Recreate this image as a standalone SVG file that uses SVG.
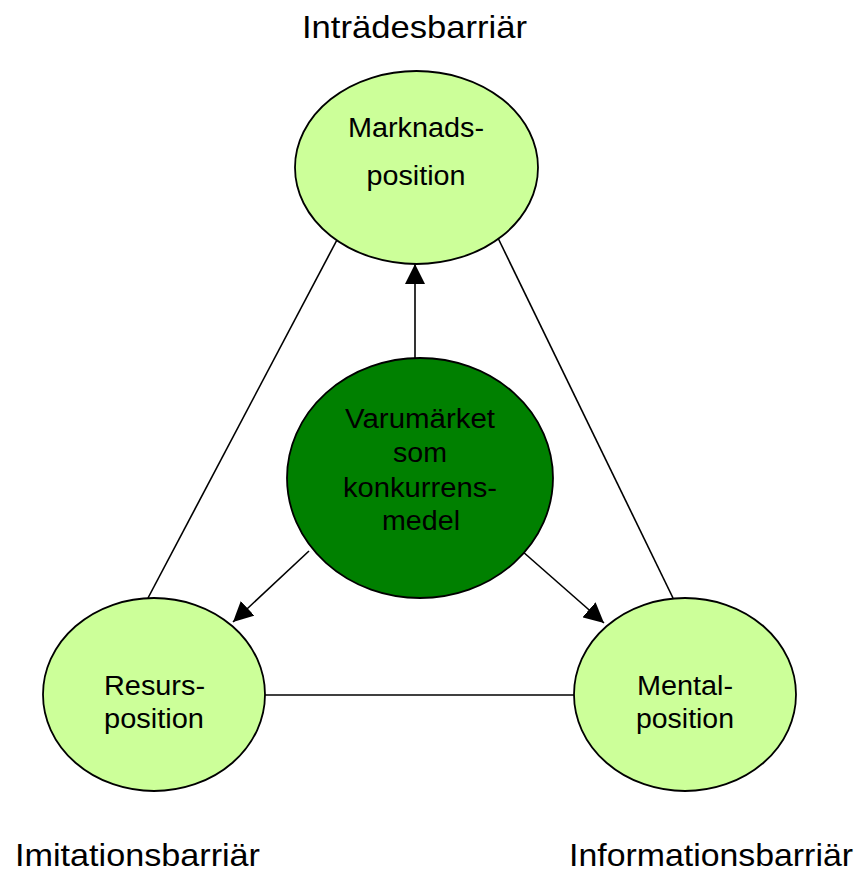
<svg xmlns="http://www.w3.org/2000/svg" width="860" height="875" viewBox="0 0 860 875">
  <defs>
    <marker id="arr" viewBox="0 0 10 10" refX="10" refY="5" markerWidth="20" markerHeight="20" markerUnits="userSpaceOnUse" orient="auto">
      <path d="M0,0 L10,5 L0,10 Z" fill="#000"/>
    </marker>
    <style>
      .light { fill: #CCFF99; stroke: #000; stroke-width: 1.8; }
      .dark { fill: #008000; stroke: #000; stroke-width: 1.8; }
      .conn { stroke: #000; stroke-width: 1.6; fill: none; }
      text { font-family: "Liberation Sans", Arial, sans-serif; fill: #000; }
      .lbl { font-size: 32px; }
      .nt { font-size: 27px; text-anchor: middle; }
    </style>
  </defs>
  <rect width="860" height="875" fill="#fff"/>

  <g id="connectors">
    <line class="conn" x1="338" y1="238" x2="148" y2="598"/>
    <line class="conn" x1="498" y1="238" x2="673" y2="598"/>
    <line class="conn" x1="264" y1="695" x2="575" y2="695"/>
    <line class="conn" x1="415" y1="358" x2="415" y2="264" marker-end="url(#arr)"/>
    <line class="conn" x1="309" y1="551" x2="233" y2="622" marker-end="url(#arr)"/>
    <line class="conn" x1="522" y1="551" x2="604" y2="623" marker-end="url(#arr)"/>
  </g>

  <g id="node-marknad">
    <ellipse class="light" cx="416.5" cy="167.5" rx="121.5" ry="96.5"/>
    <text class="nt" x="416" y="137" textLength="136" lengthAdjust="spacingAndGlyphs">Marknads-</text>
    <text class="nt" x="416" y="185" textLength="99" lengthAdjust="spacingAndGlyphs">position</text>
  </g>

  <g id="node-varumarket">
    <ellipse class="dark" cx="420" cy="478" rx="133" ry="120"/>
    <text class="nt" x="420" y="428" textLength="150" lengthAdjust="spacingAndGlyphs">Varumärket</text>
    <text class="nt" x="420" y="462" textLength="54" lengthAdjust="spacingAndGlyphs">som</text>
    <text class="nt" x="420" y="497" textLength="154" lengthAdjust="spacingAndGlyphs">konkurrens-</text>
    <text class="nt" x="421" y="530" textLength="78" lengthAdjust="spacingAndGlyphs">medel</text>
  </g>

  <g id="node-resurs">
    <ellipse class="light" cx="154" cy="694.5" rx="111" ry="96.5"/>
    <text class="nt" x="154.5" y="695" textLength="101" lengthAdjust="spacingAndGlyphs">Resurs-</text>
    <text class="nt" x="154" y="728" textLength="100" lengthAdjust="spacingAndGlyphs">position</text>
  </g>

  <g id="node-mental">
    <ellipse class="light" cx="685" cy="694.5" rx="111" ry="96.5"/>
    <text class="nt" x="685" y="695" textLength="96" lengthAdjust="spacingAndGlyphs">Mental-</text>
    <text class="nt" x="685" y="728" textLength="98" lengthAdjust="spacingAndGlyphs">position</text>
  </g>

  <g id="labels">
    <text class="lbl" x="302" y="38" textLength="225" lengthAdjust="spacingAndGlyphs">Inträdesbarriär</text>
    <text class="lbl" x="15" y="866" textLength="245" lengthAdjust="spacingAndGlyphs">Imitationsbarriär</text>
    <text class="lbl" x="569" y="866" textLength="284" lengthAdjust="spacingAndGlyphs">Informationsbarriär</text>
  </g>
</svg>
